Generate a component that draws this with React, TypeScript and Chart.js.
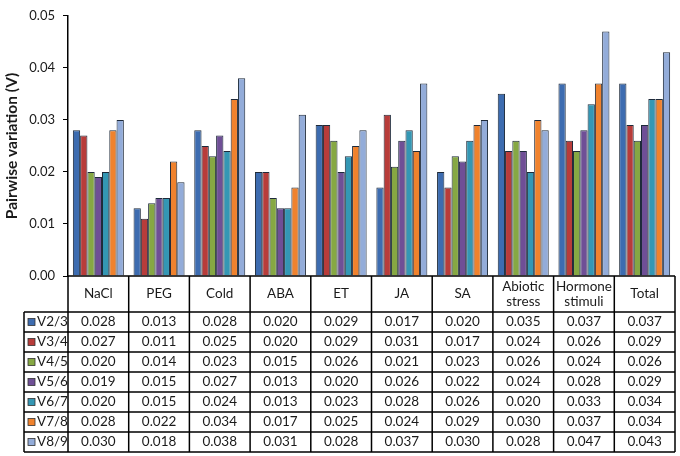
import { useEffect, useRef } from "react";
import Chart from "chart.js/auto";

const categories = ["NaCl", "PEG", "Cold", "ABA", "ET", "JA", "SA", ["Abiotic", "stress"], ["Hormone", "stimuli"], "Total"];
const seriesNames = ["V2/3", "V3/4", "V4/5", "V5/6", "V6/7", "V7/8", "V8/9"];
const v23 = [0.028, 0.013, 0.028, 0.02, 0.029, 0.017, 0.02, 0.035, 0.037, 0.037];
const v34 = [0.027, 0.011, 0.025, 0.02, 0.029, 0.031, 0.017, 0.024, 0.026, 0.029];
const v45 = [0.02, 0.014, 0.023, 0.015, 0.026, 0.021, 0.023, 0.026, 0.024, 0.026];
const v56 = [0.019, 0.015, 0.027, 0.013, 0.02, 0.026, 0.022, 0.024, 0.028, 0.029];
const v67 = [0.02, 0.015, 0.024, 0.013, 0.023, 0.028, 0.026, 0.02, 0.033, 0.034];
const v78 = [0.028, 0.022, 0.034, 0.017, 0.025, 0.024, 0.029, 0.03, 0.037, 0.034];
const v89 = [0.03, 0.018, 0.038, 0.031, 0.028, 0.037, 0.03, 0.028, 0.047, 0.043];
const seriesValues = [v23, v34, v45, v56, v67, v78, v89];
const colors = ["#3d6cb0", "#b83c3a", "#86a843", "#6f4f96", "#3497b4", "#f0822d", "#93acd9"];

const FONT = "Lato, 'Open Sans', sans-serif";
const INK = "#1a1a1a";

// draws the data table under the plot, lined up with the x scale
const tablePlugin = {
  id: "dataTable",
  afterDraw(chart: any) {
    const ctx = chart.ctx;
    const x = chart.scales.x;
    const area = chart.chartArea;
    const half = (x.getPixelForValue(1) - x.getPixelForValue(0)) / 2;
    const top = area.bottom;
    const headH = 36;
    const rowH = 20;
    const rowsTop = top + headH;
    const bottom = rowsTop + rowH * seriesNames.length;
    const legendLeft = 24;
    const left = area.left;
    const right = x.getPixelForValue(categories.length - 1) + half;

    ctx.save();
    ctx.strokeStyle = "#000";
    ctx.lineWidth = 1.5;
    ctx.beginPath();
    // header row
    ctx.moveTo(left, top);
    ctx.lineTo(right, top);
    for (let i = 0; i <= categories.length; i++) {
      const bx = i === 0 ? left : x.getPixelForValue(i - 1) + half;
      ctx.moveTo(bx, top);
      ctx.lineTo(bx, bottom);
    }
    // data rows
    for (let r = 0; r <= seriesNames.length; r++) {
      const y = rowsTop + r * rowH;
      ctx.moveTo(legendLeft, y);
      ctx.lineTo(right, y);
    }
    ctx.moveTo(legendLeft, rowsTop);
    ctx.lineTo(legendLeft, bottom);
    ctx.stroke();

    ctx.fillStyle = INK;
    ctx.font = `13.5px ${FONT}`;
    ctx.textAlign = "center";
    ctx.textBaseline = "middle";
    categories.forEach((c, i) => {
      const cx = x.getPixelForValue(i);
      const lines = Array.isArray(c) ? c : [c];
      lines.forEach((ln, k) => {
        const cy = top + headH / 2 + (k - (lines.length - 1) / 2) * 15;
        ctx.fillText(ln, cx, cy);
      });
    });

    seriesNames.forEach((name, r) => {
      const cy = rowsTop + r * rowH + rowH / 2;
      ctx.fillStyle = colors[r];
      ctx.fillRect(28, cy - 3.5, 7, 7);
      ctx.lineWidth = 0.8;
      ctx.strokeStyle = "#333";
      ctx.strokeRect(28, cy - 3.5, 7, 7);
      ctx.fillStyle = INK;
      ctx.textAlign = "left";
      ctx.fillText(name, 37, cy);
      ctx.textAlign = "center";
      seriesValues[r].forEach((v, i) => {
        ctx.fillText(v.toFixed(3), x.getPixelForValue(i), cy);
      });
    });
    ctx.restore();
  },
};

export default function App() {
  const chartRef = useRef<HTMLCanvasElement>(null);

  useEffect(() => {
    document.body.style.margin = "0";
    if (chartRef && chartRef.current) {
      const chartInstance = new Chart(chartRef.current, {
        type: "bar",
        data: {
          labels: categories,
          datasets: seriesNames.map((name, i) => ({
            label: name,
            data: seriesValues[i],
            backgroundColor: colors[i],
            borderColor: "#1e2a3a",
            borderWidth: 1,
            categoryPercentage: 0.84,
            barPercentage: 1,
          })),
        },
        options: {
          responsive: false,
          animation: false,
          layout: { padding: { top: 10, right: 5, bottom: 180, left: 0 } },
          plugins: {
            legend: { display: false },
            tooltip: { enabled: false },
          },
          scales: {
            x: { display: false },
            y: {
              min: 0,
              max: 0.05,
              afterFit: (scale: any) => {
                scale.width = 68;
              },
              ticks: {
                stepSize: 0.01,
                padding: 8,
                color: INK,
                font: { family: FONT, size: 13 },
                callback: (v: any) => Number(v).toFixed(2),
              },
              grid: {
                display: true,
                drawOnChartArea: false,
                drawTicks: true,
                tickLength: 5,
                color: "#000",
              },
              border: { display: true, color: "#000", width: 1.5 },
              title: {
                display: true,
                text: "Pairwise variation (V)",
                color: INK,
                padding: { top: 3, bottom: 0 },
                font: { family: FONT, size: 15.5, weight: "bold" },
              },
            },
          },
        },
        plugins: [tablePlugin],
      });

      return () => {
        chartInstance.destroy();
      };
    }
  }, []);

  return <canvas ref={chartRef} width={680} height={456} />;
}
